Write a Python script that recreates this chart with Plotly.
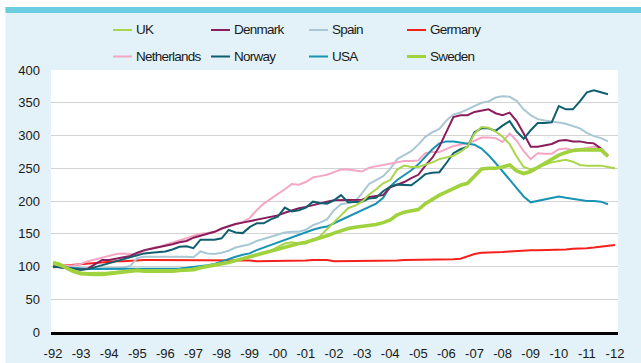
import plotly.graph_objects as go

# House price indices, quarterly, 1992 = 100
start_year = 1992
tick_years = list(range(1992, 2013))
tick_labels = ["-92", "-93", "-94", "-95", "-96", "-97", "-98", "-99", "-00", "-01",
               "-02", "-03", "-04", "-05", "-06", "-07", "-08", "-09", "-10", "-11", "-12"]

uk = [104, 101, 98, 94, 91, 90, 90, 90, 91, 92, 93, 94, 95, 94, 94, 93,
      93, 94, 95, 95, 97, 99, 101, 102, 104, 107, 110, 113, 115, 118, 121, 124,
      130, 135, 137, 135, 135, 140, 146, 157, 167, 178, 189, 193, 199, 210, 218, 227,
      232, 248, 254, 252, 252, 255, 259, 264, 267, 269, 275, 283, 303, 313, 312, 306,
      298, 287, 268, 252, 248, 252, 256, 259, 261, 263, 260, 255, 254, 254, 254, 252,
      250]
denmark = [100, 99, 97, 96, 95, 97, 104, 110, 110, 112, 115, 116, 121, 125, 127, 129,
           131, 134, 137, 139, 144, 147, 150, 153, 158, 162, 165, 167, 169, 172, 174, 176,
           178, 182, 186, 189, 191, 194, 197, 199, 201, 201, 201, 201, 202, 206, 208, 209,
           221, 225, 229, 235, 240, 254, 266, 283, 306, 328, 331, 331, 336, 338, 340, 334,
           331, 335, 322, 303, 283, 283, 285, 287, 292, 293, 291, 291, 289, 288, 280, 269]
spain = [100, 99, 98, 97, 97, 97, 97, 97, 97, 97, 98, 101, 113, 115, 115, 116,
         116, 116, 116, 115, 114, 123, 120, 119, 121, 124, 129, 131, 134, 139, 142, 145,
         149, 152, 153, 153, 156, 163, 167, 172, 186, 195, 197, 199, 212, 226, 232, 238,
         249, 264, 270, 276, 286, 298, 305, 310, 323, 332, 335, 340, 345, 350, 352, 358,
         360, 359, 353, 340, 331, 325, 323, 322, 320, 318, 315, 311, 304, 299, 296, 291]
germany = [100, 101, 102, 103, 104, 105, 106, 107, 107, 108, 108, 109, 110, 110, 110, 110,
           110, 110, 109, 109, 109, 110, 110, 110, 110, 110, 110, 110, 109, 108, 108, 108,
           108, 108, 108, 109, 109, 110, 110, 110, 108, 108, 108, 109, 108, 109, 109, 109,
           109, 109, 110, 110, 110, 110, 110, 110, 111, 111, 112, 116, 119, 121, 121, 122,
           122, 123, 124, 125, 125, 125, 125, 125, 126, 126, 127, 127, 128, 129, 130, 131.5,
           133]
netherlands = [98, 100, 101, 102, 104, 108, 111, 113, 116, 119, 120, 119, 118, 124, 128, 130,
               133, 136, 140, 143, 147, 150, 151, 153, 157, 162, 165, 168, 174, 186, 196, 203,
               210, 218, 226, 225, 229, 236, 238, 240, 244, 248, 248, 247, 245, 251, 253, 255,
               257, 260, 261, 261, 262, 273, 275, 275, 279, 284, 286, 288, 292, 297, 297, 296,
               290, 303, 292, 276, 264, 273, 272, 272, 279, 280, 278, 279, 281, 283, 279, 270]
norway = [100, 99, 98, 96, 95, 96, 99, 101, 104, 108, 111, 113, 116, 120, 121, 122,
          123, 126, 130, 131, 128, 141, 141, 141, 143, 156, 152, 151, 160, 166, 166, 172,
          176, 190, 184, 186, 190, 199, 197, 196, 201, 209, 198, 198, 199, 204, 205, 215,
          222, 225, 224, 224, 232, 241, 243, 244, 258, 273, 279, 283, 305, 311, 311, 307,
          315, 322, 306, 295, 308, 319, 319, 320, 345, 340, 340, 352, 366, 369, 366, 363]
usa = [100, 99, 98, 97, 97, 96, 96, 96, 96, 96, 96, 96, 96, 96, 96, 96,
       97, 97, 97, 98, 99, 100, 102, 104, 108, 111, 115, 118, 120, 125, 129, 133,
       137, 141, 145, 149, 153, 156, 159, 161, 166, 171, 176, 180, 185, 190, 196, 205,
       222, 232, 239, 247, 256, 268, 279, 288, 291, 291, 289, 287, 286, 280, 270, 258,
       245, 232, 220, 207, 198, 200, 203, 205, 207, 205, 203, 201, 200, 200, 199, 195]
sweden = [106, 103, 97, 92, 89, 88, 88, 88, 89, 91, 92, 93, 94, 93, 93, 92,
          92, 93, 94, 95, 95, 98, 100, 102, 103, 106, 109, 112, 114, 117, 120, 123,
          126, 130, 133, 135, 137, 140, 144, 147, 151, 155, 158, 160, 161, 163, 164, 167,
          171, 179, 183, 185, 187, 196, 203, 209, 214, 219, 224, 227, 238, 249, 250, 250,
          252, 255, 246, 242, 245, 251, 257, 264, 270, 274, 277, 278, 278, 278, 278, 268]

# name, values, colour, line width; drawing order back to front
series = [
    ("Germany", germany, "#f5201c", 2),
    ("Spain", spain, "#a9c8d3", 2),
    ("Netherlands", netherlands, "#f4a6c4", 2),
    ("USA", usa, "#1893b3", 2),
    ("Denmark", denmark, "#8a1d5c", 2),
    ("Norway", norway, "#0f5f6f", 2),
    ("UK", uk, "#a8d54a", 2),
    ("Sweden", sweden, "#9fd23d", 3.6),
]
legend_order = ["UK", "Denmark", "Spain", "Germany", "Netherlands", "Norway", "USA", "Sweden"]

W, H = 641, 363
ML, MR, MT, MB = 51, 23, 70, 31
PW, PH = W - ML - MR, H - MT - MB

def px_x(px):
    return (px - ML) / PW

def px_y(py):
    return (H - MB - py) / PH

fig = go.Figure()
for name, vals, color, width in series:
    fig.add_trace(go.Scatter(
        x=[start_year + q / 4 for q in range(len(vals))],
        y=vals, mode="lines", name=name, showlegend=False,
        line=dict(color=color, width=width),
    ))

shapes = [
    # white border round the panel and the teal band on top
    dict(type="rect", xref="paper", yref="paper", x0=px_x(0), x1=px_x(5.5), y0=px_y(H), y1=px_y(0),
         fillcolor="white", line_width=0, layer="below"),
    dict(type="rect", xref="paper", yref="paper", x0=px_x(0), x1=px_x(W), y0=px_y(7), y1=px_y(0),
         fillcolor="white", line_width=0, layer="below"),
    dict(type="rect", xref="paper", yref="paper", x0=px_x(5.5), x1=px_x(W), y0=px_y(13), y1=px_y(7),
         fillcolor="#6acde0", line_width=0, layer="below"),
]
annotations = []
style = {name: (color, width) for name, _, color, width in series}
for i, name in enumerate(legend_order):
    col, row = i % 4, i // 4
    x0 = 113 + 98 * col
    yc = 30 + 26.5 * row
    color, width = style[name]
    shapes.append(dict(type="line", xref="paper", yref="paper",
                       x0=px_x(x0), x1=px_x(x0 + 19), y0=px_y(yc), y1=px_y(yc),
                       line=dict(color=color, width=min(width, 3))))
    annotations.append(dict(text=f'<span style="letter-spacing:-0.75px">{name}</span>',
                            xref="paper", yref="paper", x=px_x(x0 + 21), y=px_y(yc),
                            xanchor="left", yanchor="middle", showarrow=False,
                            font=dict(family="Liberation Sans, Arial, sans-serif",
                                      size=13.5, color="#1a1a1a")))

fig.update_layout(
    width=W, height=H,
    margin=dict(l=ML, r=MR, t=MT, b=MB, pad=0, autoexpand=False),
    paper_bgcolor="#e2f2f8", plot_bgcolor="white",
    shapes=shapes, annotations=annotations,
    font=dict(family="Liberation Sans, Arial, sans-serif", size=13, color="#1a1a1a"),
    xaxis=dict(range=[1991.929, 2012.107], tickvals=tick_years, ticktext=tick_labels,
               showgrid=False, zeroline=False, showline=True, linecolor="black", linewidth=3,
               ticks="", ticklabelstandoff=7, tickfont=dict(size=13), automargin=False),
    yaxis=dict(range=[0, 400], dtick=50, showgrid=True, gridcolor="#d3d3d3", gridwidth=1,
               zeroline=False, showline=False, ticks="", ticklabelstandoff=10,
               tickfont=dict(size=13), automargin=False),
)

fig.write_html("out.html")
